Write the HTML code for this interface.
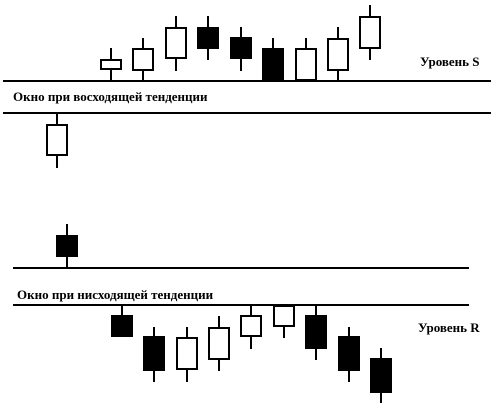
<!DOCTYPE html>
<html><head><meta charset="utf-8"><style>
html,body{margin:0;padding:0;background:#fff;}
svg{display:block;}
text{font-family:"Liberation Serif",serif;font-weight:bold;font-size:13px;fill:#000;}
</style></head><body>
<svg id="chart" width="502" height="408" viewBox="0 0 502 408" xmlns="http://www.w3.org/2000/svg">
<line x1="3" y1="81" x2="491" y2="81" stroke="#000" stroke-width="2"/>
<line x1="3" y1="113" x2="491" y2="113" stroke="#000" stroke-width="2"/>
<text x="13" y="101">Окно при восходящей тенденции</text>
<text x="420" y="66">Уровень S</text>
<line x1="13" y1="268" x2="469" y2="268" stroke="#000" stroke-width="2"/>
<line x1="13" y1="305" x2="469" y2="305" stroke="#000" stroke-width="2"/>
<text x="17" y="299">Окно при нисходящей тенденции</text>
<text x="418" y="332">Уровень R</text>
<g id="marks"></g>
</svg>
<script>
// Each candle: x position, high, open, close, low (values on a vertical scale, larger = higher)
const upX = [111,143,176,208,241,273,306,338,370];
const upHigh = [360,370,392,392,381,370,370,381,403];
const upOpen = [338,337,349,381,371,360,327,337,359];
const upClose = [349,360,381,359,349,327,360,370,392];
const upLow = [327,327,337,348,337,327,327,327,348];

const midX = [57,67];
const midHigh = [295,184];
const midOpen = [252,173];
const midClose = [284,151];
const midLow = [240,140];

const dnX = [122,154,187,219,251,284,316,349,381];
const dnHigh = [103,81,81,92,103,103,103,81,60];
const dnOpen = [93,72,38,48,71,81,93,72,50];
const dnClose = [71,37,71,81,93,103,59,37,15];
const dnLow = [71,26,26,37,59,70,48,26,5];

const BASE = 408;
function yScale(v){ return BASE - v; }
const W = 22;
const ns = "http://www.w3.org/2000/svg";
const g = document.getElementById('marks');

function draw(xs, hi, op, cl, lo){
  for (let i=0;i<xs.length;i++){
    const x = xs[i];
    const top = Math.max(op[i],cl[i]), bot = Math.min(op[i],cl[i]);
    const bull = cl[i] > op[i];
    const w = document.createElementNS(ns,'line');
    w.setAttribute('x1',x); w.setAttribute('x2',x);
    w.setAttribute('y1',yScale(hi[i])); w.setAttribute('y2',yScale(lo[i]));
    w.setAttribute('stroke','#000'); w.setAttribute('stroke-width','2');
    
    
    g.appendChild(w);
    const r = document.createElementNS(ns,'rect');
    r.setAttribute('x',x-W/2+1); r.setAttribute('y',yScale(top)+1);
    r.setAttribute('width',W-2); r.setAttribute('height',Math.max(0,top-bot-2));
    r.setAttribute('fill', bull ? '#fff' : '#000');
    r.setAttribute('stroke','#000'); r.setAttribute('stroke-width','2');
    
    
    g.appendChild(r);
  }
}
draw(upX, upHigh, upOpen, upClose, upLow);
draw(midX, midHigh, midOpen, midClose, midLow);
draw(dnX, dnHigh, dnOpen, dnClose, dnLow);
</script>
</body></html>
